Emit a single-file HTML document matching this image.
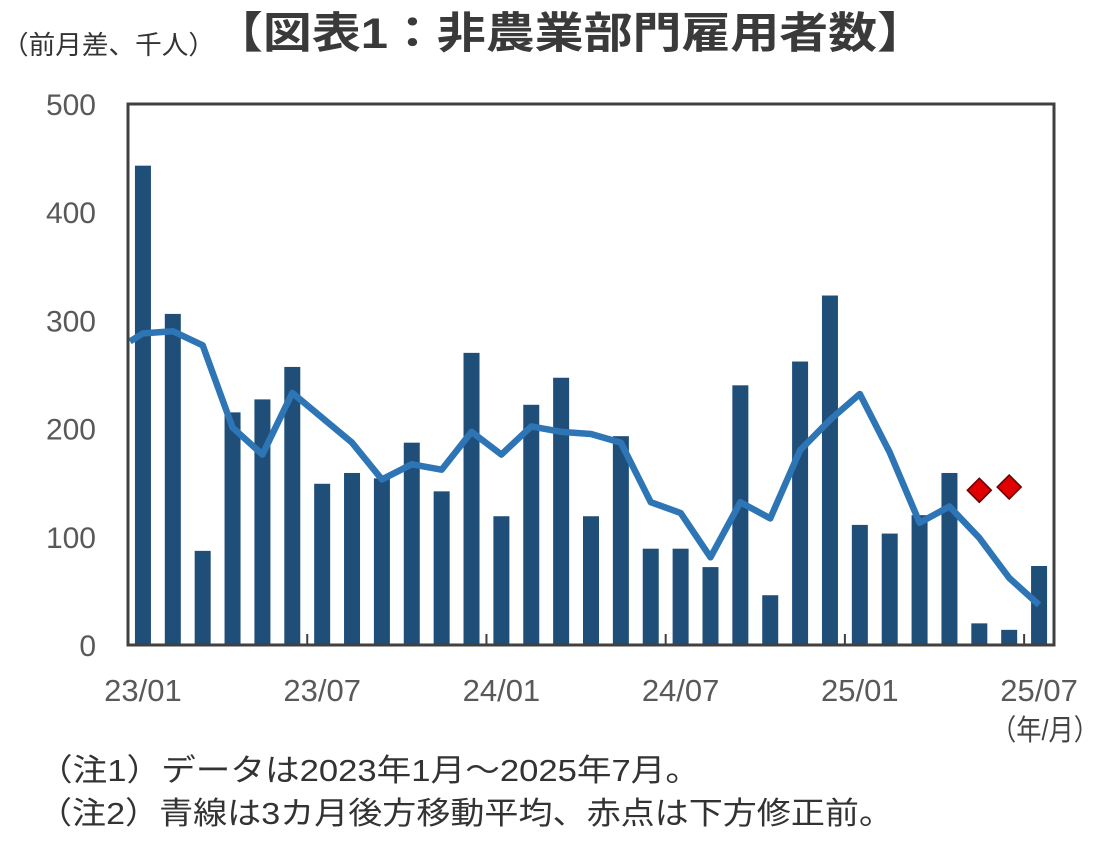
<!DOCTYPE html>
<html><head><meta charset="utf-8"><style>
body{margin:0;background:#fff;width:1103px;height:852px;overflow:hidden;font-family:"Liberation Sans","Noto Sans CJK JP",sans-serif;}
</style></head><body>
<svg width="1103" height="852" xmlns="http://www.w3.org/2000/svg">
<text x="2" y="54" font-size="26" fill="#333" textLength="213" lengthAdjust="spacingAndGlyphs" font-family="Liberation Sans,Noto Sans CJK JP,sans-serif">（前月差、千人）</text>
<text x="214" y="48" font-size="43" font-weight="bold" fill="#3a3a3a" textLength="712" lengthAdjust="spacingAndGlyphs" font-family="Liberation Sans,Noto Sans CJK JP,sans-serif">【図表1：非農業部門雇用者数】</text>
<g id="plot"></g>
<text x="1045" y="740" font-size="29" fill="#444" text-anchor="middle" textLength="108" lengthAdjust="spacingAndGlyphs" font-family="Liberation Sans,Noto Sans CJK JP,sans-serif">（年/月）</text>
<text x="38" y="781" font-size="31" fill="#333" textLength="662" lengthAdjust="spacingAndGlyphs" font-family="Liberation Sans,Noto Sans CJK JP,sans-serif">（注1）データは2023年1月～2025年7月。</text>
<text x="38" y="824" font-size="31" fill="#333" textLength="855" lengthAdjust="spacingAndGlyphs" font-family="Liberation Sans,Noto Sans CJK JP,sans-serif">（注2）青線は3カ月後方移動平均、赤点は下方修正前。</text>
</svg>
<script>
const months=["23/01","23/02","23/03","23/04","23/05","23/06","23/07","23/08","23/09","23/10","23/11","23/12","24/01","24/02","24/03","24/04","24/05","24/06","24/07","24/08","24/09","24/10","24/11","24/12","25/01","25/02","25/03","25/04","25/05","25/06","25/07"];
const payrolls=[443,306,87,215,227,257,149,159,154,187,142,270,119,222,247,119,193,89,89,72,240,46,262,323,111,103,120,159,20,14,73];
const movingAvg=[288,290,277,201,176,233,210,187,153,167,162,197,176,202,197,195,187,132,122,81,132,117,180,208,232,178,113,128,99,62,37];
const preRevision=[[28,143],[29,146]];
const yTicks=[0,100,200,300,400,500];
const xLabels=["23/01","23/07","24/01","24/07","25/01","25/07"];
const NS="http://www.w3.org/2000/svg";
const g=document.getElementById('plot');
const L=128,R=1054,T=104,B=645,slot=(R-L)/months.length;
const xs=i=>L+slot*(i+0.5);
const ys=v=>B-(v/500)*(B-T);
function mk(t,a){const e=document.createElementNS(NS,t);for(const k in a)e.setAttribute(k,a[k]);g.appendChild(e);return e;}
yTicks.forEach(v=>{const t=mk('text',{x:96,y:ys(v)+11,'font-size':30,fill:'#595959','text-anchor':'end'});t.textContent=v;

});
payrolls.forEach((v,i)=>{const r=mk('rect',{x:xs(i)-8,y:ys(v),width:16,height:B-ys(v),fill:'#1f4e79'});

});
for(let k=1;k<6;k++){const x=L+slot*6*k;const l=mk('line',{x1:x,x2:x,y1:B-11,y2:B,stroke:'#404040','stroke-width':2});

}
const pts=movingAvg.map((v,i)=>xs(i)+','+ys(v));
pts.unshift(L+2+','+(ys(movingAvg[0])+8));
const p=mk('polyline',{points:pts.join(' '),fill:'none',stroke:'#2e75b6','stroke-width':6.5,'stroke-linejoin':'round'});


preRevision.forEach(([i,v])=>{const x=xs(i),y=ys(v);const d=mk('polygon',{points:`${x},${y-12} ${x+12},${y} ${x},${y+12} ${x-12},${y}`,fill:'#e00000',stroke:'#600','stroke-width':1.5});

});
const f=mk('rect',{x:L,y:T,width:R-L,height:B-T,fill:'none',stroke:'#404040','stroke-width':3});


xLabels.forEach(lb=>{const i=months.indexOf(lb);const t=mk('text',{x:xs(i),y:701,'font-size':31,fill:'#595959','text-anchor':'middle'});t.textContent=lb;

});
</script>
</body></html>
